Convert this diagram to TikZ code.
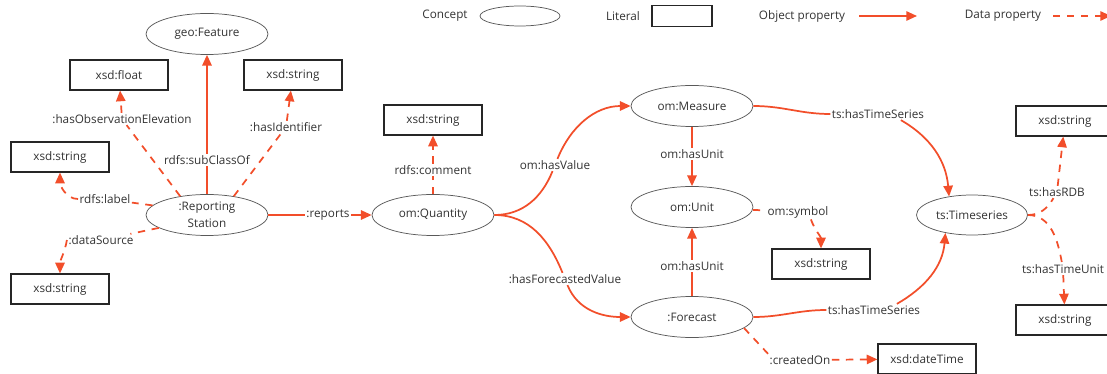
\documentclass[tikz,border=0pt]{standalone}
\usepackage{fontspec}
\setmainfont{Open Sans}
\usetikzlibrary{shapes.geometric,arrows.meta}
\definecolor{prop}{HTML}{F24E2A}
\definecolor{txt}{HTML}{333333}
\begin{document}
\begin{tikzpicture}[x=0.75pt,y=-0.75pt,
  font=\fontsize{8.8}{12.5}\selectfont, text=txt,
  concept/.style={ellipse, draw=black!65, line width=0.55pt, minimum width=91.5pt,
    minimum height=30.75pt, inner sep=0pt, align=center},
  literal/.style={rectangle, draw=black!85, line width=0.9pt, minimum width=73.5pt,
    minimum height=22.5pt, inner sep=0pt},
  lbl/.style={fill=white, inner sep=1pt},
  objprop/.style={draw=prop, line width=1.3pt, -{Triangle[length=8pt,width=7pt]}},
  dataprop/.style={objprop, dash pattern=on 5.5pt off 5pt},
]
% canvas
\path[use as bounding box, fill=white] (0,0) rectangle (1107,374);

% legend
\node (lgCt) at (445,16) {Concept};
\node[concept, minimum width=60pt, minimum height=15pt] (lgC) at (520,16) {};
\node (lgLt) at (623,16) {Literal};
\node[literal, minimum width=45pt, minimum height=15.75pt] (lgL) at (682,16) {};
\node (lgO) at (802,16) {Object property};
\coordinate (lgOa) at (859,16); \coordinate (lgOb) at (917,16);
\draw[objprop] (lgOa) -- (lgOb);
\node (lgD) at (1003,16) {Data property};
\coordinate (lgDa) at (1053,16); \coordinate (lgDb) at (1111,16);
\draw[dataprop] (lgDa) -- (lgDb);

% concepts
\node[concept] (geo)  at (207,34)  {geo:Feature};
\node[concept] (rs)   at (207,215) {:Reporting\\Station};
\node[concept] (q)    at (433,215) {om:Quantity};
\node[concept] (meas) at (692,106) {om:Measure};
\node[concept] (unit) at (692,207) {om:Unit};
\node[concept] (fc)   at (692,317) {:Forecast};
\node[concept, minimum width=83.25pt, minimum height=30pt] (ts) at (972,215) {ts:Timeseries};

% literals
\node[literal] (flt)  at (119,75)  {xsd:float};
\node[literal] (sid)  at (293,75)  {xsd:string};
\node[literal] (slb)  at (60,157)  {xsd:string};
\node[literal] (sds)  at (60,289)  {xsd:string};
\node[literal] (scm)  at (433,120) {xsd:string};
\node[literal] (ssym) at (821,264) {xsd:string};
\node[literal] (dt)   at (927,359) {xsd:dateTime};
\node[literal] (srdb) at (1065,121) {xsd:string};
\node[literal] (stu)  at (1065,320) {xsd:string};

% property labels
\node[lbl] (lSub) at (207,160) {rdfs:subClassOf};
\node[lbl] (lObs) at (122,119) {:hasObservationElevation};
\node[lbl] (lId)  at (286,127) {:hasIdentifier};
\node[lbl] (lLab) at (105,199) {rdfs:label};
\node[lbl] (lDs)  at (101,240) {:dataSource};
\node[lbl] (lRep) at (328,215) {:reports};
\node[lbl] (lCom) at (433,170) {rdfs:comment};
\node[lbl] (lVal) at (555,165) {om:hasValue};
\node[lbl] (lFcv) at (565,279) {:hasForecastedValue};
\node[lbl] (lHu1) at (692,154) {om:hasUnit};
\node[lbl] (lHu2) at (692,266) {om:hasUnit};
\node[lbl] (lSym) at (798,212) {om:symbol};
\node[lbl] (lTs1) at (878,114) {ts:hasTimeSeries};
\node[lbl] (lTs2) at (874,310) {ts:hasTimeSeries};
\node[lbl] (lRdb) at (1057,192) {ts:hasRDB};
\node[lbl] (lTu)  at (1063,269) {ts:hasTimeUnit};
\node[lbl] (lCr)  at (800,360) {:createdOn};

% object properties
\draw[objprop] (rs) -- (lSub) -- (geo);
\draw[objprop] (rs) -- (lRep) -- (q);
\draw[objprop] (q.east) to[out=0,in=-112] (lVal) (lVal) to[out=68,in=180] (meas.west);
\draw[objprop] (q.east) to[out=0,in=112] (lFcv) (lFcv) to[out=-68,in=180] (fc.west);
\draw[objprop] (meas) -- (lHu1) -- (unit);
\draw[objprop] (fc) -- (lHu2) -- (unit);
\draw[objprop] (meas.east) to[out=0,in=180] (lTs1.west) (lTs1.-15) to[out=-30,in=95] (ts.141);
\draw[objprop] (fc.east) to[out=0,in=180] (lTs2.west) (lTs2.15) to[out=30,in=-95] (ts.-146);

% data properties
\draw[dataprop] (rs.145) -- (lObs) -- (flt);
\draw[dataprop] (rs.35) -- (lId) -- (sid);
\draw[dataprop] (rs.170) -- (lLab) (lLab.west) to[out=180,in=-90] (slb.south);
\draw[dataprop] (rs.195) -- (lDs) (lDs.west) to[out=-100,in=90] (sds.north);
\draw[dataprop] (q) -- (lCom) -- (scm);
\draw[dataprop] (unit) -- (lSym) (lSym.-30) to[out=-70,in=90] (ssym.north);
\draw[dataprop] (fc.-12) -- (lCr.north west) (lCr) -- (dt);
\draw[dataprop] (ts.east) to[out=0,in=-120] (lRdb) (lRdb) -- (srdb);
\draw[dataprop] (ts.east) to[out=0,in=100] (lTu) (lTu) -- (stu);
\end{tikzpicture}
\end{document}
